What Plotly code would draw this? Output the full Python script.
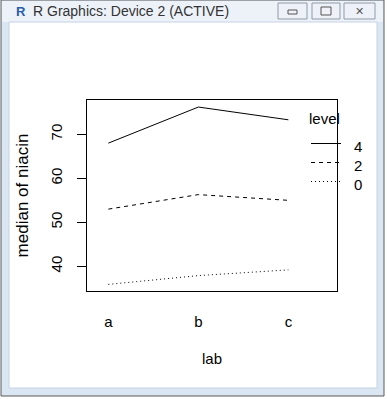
import plotly.graph_objects as go

labs = ["a", "b", "c"]
level_names = ["4", "2", "0"]
median_4 = [68.0, 76.2, 73.3]
median_2 = [53.0, 56.3, 55.0]
median_0 = [35.9, 37.9, 39.2]
series = [median_4, median_2, median_0]
dashes = ["solid", "4px,4px", "1px,3px"]
y_ticks = [40, 50, 60, 70]

W, H = 387, 399
L, R, T, B = 87, 50, 100, 108
PW, PH = W - L - R, H - T - B

def px(x):
    return (x - L) / PW

def py(y):
    return (H - B - y) / PH

FONT = "Liberation Sans, Arial, sans-serif"

fig = go.Figure()
for name, vals, d in zip(level_names, series, dashes):
    fig.add_trace(go.Scatter(x=labs, y=vals, mode="lines", name=name, showlegend=False,
                             hoverinfo="skip", line=dict(color="black", width=1, dash=d)))

shapes = []
# window frame
shapes.append(dict(type="rect", xref="paper", yref="paper", x0=px(1), x1=px(384), y0=py(0), y1=py(396),
                   fillcolor="#dbe6f3", line=dict(color="#5a5a5a", width=1), layer="below"))
shapes.append(dict(type="rect", xref="paper", yref="paper", x0=px(2), x1=px(383), y0=py(1), y1=py(22),
                   fillcolor="#edf2f9", line=dict(width=0), layer="below"))
shapes.append(dict(type="rect", xref="paper", yref="paper", x0=px(9), x1=px(377), y0=py(22), y1=py(388),
                   fillcolor="white", line=dict(color="#c5d2e3", width=1), layer="below"))
# title bar buttons
for x0, x1 in [(278, 307), (312, 340), (344, 375)]:
    shapes.append(dict(type="rect", xref="paper", yref="paper", x0=px(x0), x1=px(x1), y0=py(3), y1=py(19),
                       fillcolor="#eef2f8", line=dict(color="#8f9aa8", width=1), layer="below"))
shapes.append(dict(type="rect", xref="paper", yref="paper", x0=px(288), x1=px(297), y0=py(10), y1=py(14),
                   line=dict(color="#555", width=1), layer="below"))
shapes.append(dict(type="rect", xref="paper", yref="paper", x0=px(321), x1=px(331), y0=py(7), y1=py(15),
                   line=dict(color="#555", width=1), layer="below"))

annotations = [
    dict(text="R Graphics: Device 2 (ACTIVE)", x=px(31), y=py(11), xref="paper", yref="paper",
         xanchor="left", yanchor="middle", showarrow=False, font=dict(family=FONT, size=14, color="#333")),
    dict(text="<b>R</b>", x=px(21), y=py(11), xref="paper", yref="paper",
         xanchor="center", yanchor="middle", showarrow=False, font=dict(family=FONT, size=13, color="#2a5caa")),
    dict(text="✕", x=px(359.5), y=py(11), xref="paper", yref="paper",
         xanchor="center", yanchor="middle", showarrow=False, font=dict(family="DejaVu Sans", size=11, color="#555")),
]

# legend (drawn as key lines + labels)
legend_title = "level"
annotations.append(dict(text=legend_title, x=px(307), y=py(118), xref="paper", yref="paper",
                        xanchor="left", yanchor="middle", showarrow=False, font=dict(family=FONT, size=15)))
key_y = [143.5, 162.5, 181.5]
for name, d, ky in zip(level_names, dashes, key_y):
    shapes.append(dict(type="line", xref="paper", yref="paper", x0=px(311), x1=px(341), y0=py(ky), y1=py(ky),
                       line=dict(color="black", width=1, dash=d)))
    annotations.append(dict(text=name, x=px(358), y=py(ky + 3), xref="paper", yref="paper",
                            xanchor="center", yanchor="middle", showarrow=False, font=dict(family=FONT, size=15)))

fig.update_layout(
    width=W, height=H,
    margin=dict(l=L, r=R, t=T, b=B, pad=0),
    paper_bgcolor="white", plot_bgcolor="white",
    font=dict(family=FONT, size=15, color="black"),
    showlegend=False,
    shapes=shapes, annotations=annotations,
    xaxis=dict(type="category", range=[-0.237, 2.54], showgrid=False, zeroline=False,
               showline=True, mirror=True, linecolor="black", linewidth=1,
               ticks="outside", ticklen=17, tickcolor="rgba(0,0,0,0)",
               title=dict(text="lab", standoff=24, font=dict(size=15))),
    yaxis=dict(range=[34.4, 77.8], showgrid=False, zeroline=False,
               showline=True, mirror=True, linecolor="black", linewidth=1,
               tickvals=y_ticks, ticks="outside", ticklen=9, tickcolor="black",
               tickangle=-90, ticklabelstandoff=9,
               title=dict(text="median of niacin", standoff=15, font=dict(size=17))),
)

fig.write_html("out.html", config={"displayModeBar": False},
               post_script="document.body.style.margin='0';document.body.style.padding='0';")
